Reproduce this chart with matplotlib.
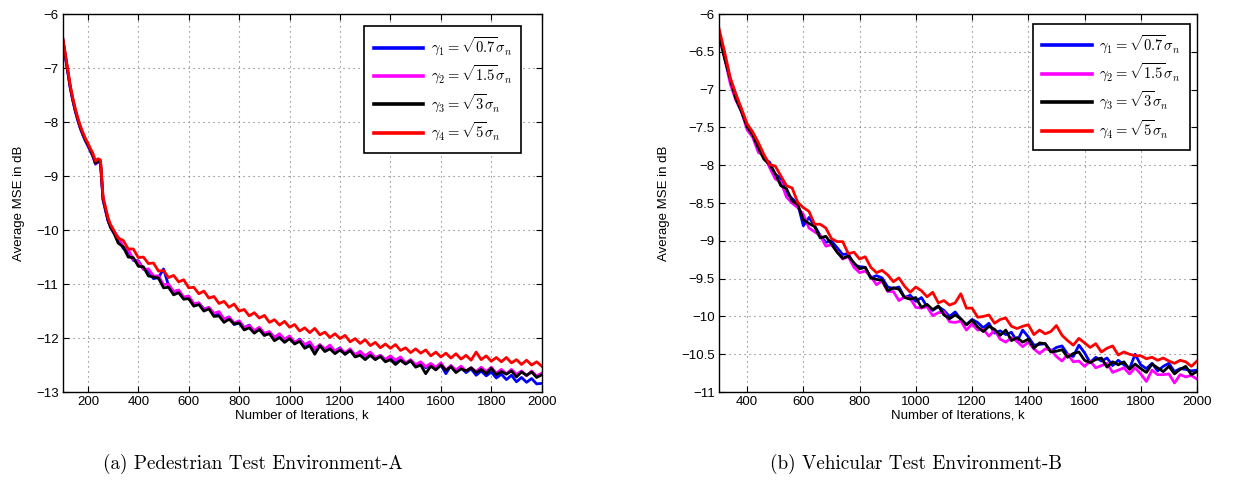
import numpy as np
import matplotlib
matplotlib.use("Agg")
import matplotlib.pyplot as plt
from matplotlib.ticker import FixedLocator, FuncFormatter

plt.rcParams['font.family'] = ['Liberation Sans', 'DejaVu Sans']
plt.rcParams['mathtext.fontset'] = 'cm'

# ---- (a) pedestrian environment: iterations 100..290 step 10, then 300..2000 step 20
iter_a = np.concatenate([np.arange(100, 300, 10), np.arange(300, 2001, 20)])

mse_a_g1 = [-6.47, -6.78, -7.07, -7.37, -7.60, -7.80, -7.97, -8.12, -8.24, -8.35,
            -8.44, -8.54, -8.64, -8.78, -8.74, -8.76, -9.44, -9.64, -9.83, -9.95,
            -10.04, -10.14, -10.34, -10.40, -10.56, -10.57, -10.72, -10.75, -10.90, -10.88,
            -10.72, -11.03, -11.14, -11.12, -11.27, -11.27, -11.39, -11.35, -11.46, -11.44,
            -11.58, -11.55, -11.65, -11.61, -11.75, -11.72, -11.81, -11.76, -11.87, -11.84,
            -11.95, -11.89, -11.99, -11.93, -12.06, -12.01, -12.09, -12.02, -12.13, -12.10,
            -12.21, -12.13, -12.23, -12.18, -12.24, -12.18, -12.30, -12.23, -12.32, -12.25,
            -12.34, -12.31, -12.39, -12.32, -12.40, -12.34, -12.44, -12.40, -12.48, -12.42,
            -12.51, -12.46, -12.55, -12.49, -12.58, -12.50, -12.66, -12.51, -12.61, -12.55,
            -12.64, -12.57, -12.69, -12.61, -12.70, -12.63, -12.74, -12.67, -12.77, -12.69,
            -12.81, -12.73, -12.82, -12.75, -12.85, -12.84]

mse_a_g2 = [-6.46, -6.76, -7.06, -7.36, -7.59, -7.79, -7.96, -8.11, -8.23, -8.34,
            -8.43, -8.53, -8.63, -8.77, -8.73, -8.75, -9.43, -9.63, -9.82, -9.94,
            -10.02, -10.13, -10.31, -10.36, -10.55, -10.58, -10.73, -10.72, -10.85, -10.85,
            -11.01, -11.00, -11.14, -11.11, -11.24, -11.22, -11.36, -11.35, -11.47, -11.43,
            -11.54, -11.51, -11.65, -11.61, -11.72, -11.68, -11.80, -11.77, -11.86, -11.80,
            -11.91, -11.88, -11.99, -11.92, -12.02, -11.96, -12.08, -12.03, -12.12, -12.07,
            -12.20, -12.12, -12.20, -12.13, -12.24, -12.19, -12.27, -12.20, -12.31, -12.25,
            -12.33, -12.26, -12.36, -12.32, -12.40, -12.33, -12.41, -12.35, -12.46, -12.40,
            -12.49, -12.44, -12.53, -12.47, -12.54, -12.46, -12.59, -12.51, -12.59, -12.52,
            -12.61, -12.55, -12.62, -12.54, -12.62, -12.54, -12.65, -12.58, -12.66, -12.58,
            -12.67, -12.61, -12.70, -12.61, -12.70, -12.65]

mse_a_g3 = [-6.45, -6.75, -7.05, -7.35, -7.58, -7.78, -7.95, -8.10, -8.22, -8.33,
            -8.42, -8.52, -8.62, -8.76, -8.72, -8.74, -9.42, -9.62, -9.82, -9.95,
            -10.02, -10.24, -10.31, -10.50, -10.51, -10.67, -10.68, -10.85, -10.87, -10.89,
            -11.07, -11.06, -11.20, -11.16, -11.28, -11.27, -11.41, -11.38, -11.50, -11.46,
            -11.60, -11.59, -11.71, -11.65, -11.74, -11.72, -11.85, -11.81, -11.91, -11.84,
            -11.95, -11.92, -12.05, -11.99, -12.08, -12.01, -12.11, -12.06, -12.19, -12.14,
            -12.30, -12.14, -12.25, -12.20, -12.29, -12.22, -12.30, -12.23, -12.35, -12.32,
            -12.40, -12.32, -12.40, -12.34, -12.44, -12.40, -12.49, -12.41, -12.48, -12.42,
            -12.54, -12.50, -12.66, -12.52, -12.59, -12.50, -12.60, -12.53, -12.64, -12.57,
            -12.61, -12.55, -12.64, -12.58, -12.66, -12.56, -12.68, -12.62, -12.67, -12.61,
            -12.72, -12.63, -12.69, -12.63, -12.73, -12.68]

mse_a_g4 = [-6.43, -6.72, -7.02, -7.32, -7.55, -7.75, -7.92, -8.07, -8.19, -8.30,
            -8.39, -8.49, -8.58, -8.72, -8.68, -8.70, -9.38, -9.58, -9.77, -9.90,
            -9.98, -10.15, -10.19, -10.35, -10.35, -10.51, -10.50, -10.62, -10.61, -10.76,
            -10.75, -10.88, -10.84, -10.96, -10.92, -11.07, -11.06, -11.18, -11.13, -11.26,
            -11.23, -11.36, -11.32, -11.43, -11.37, -11.50, -11.47, -11.59, -11.53, -11.63,
            -11.58, -11.71, -11.66, -11.76, -11.69, -11.80, -11.75, -11.87, -11.81, -11.90,
            -11.82, -11.94, -11.89, -11.99, -11.92, -12.01, -11.95, -12.07, -12.01, -12.10,
            -12.03, -12.14, -12.08, -12.18, -12.11, -12.19, -12.12, -12.23, -12.18, -12.27,
            -12.20, -12.28, -12.22, -12.33, -12.26, -12.35, -12.28, -12.37, -12.29, -12.39,
            -12.32, -12.41, -12.26, -12.40, -12.33, -12.43, -12.36, -12.44, -12.36, -12.46,
            -12.40, -12.49, -12.41, -12.50, -12.44, -12.52]

# ---- (b) vehicular environment: iterations 300..2000 step 20
iter_b = np.arange(300, 2001, 20)

mse_b_g1 = [-6.26, -6.55, -6.87, -7.06, -7.29, -7.48, -7.58, -7.73, -7.91, -7.96,
            -8.12, -8.17, -8.37, -8.44, -8.51, -8.80, -8.69, -8.80, -8.93, -9.02,
            -9.00, -9.09, -9.18, -9.17, -9.32, -9.34, -9.35, -9.49, -9.46, -9.49,
            -9.61, -9.63, -9.61, -9.75, -9.72, -9.80, -9.75, -9.87, -9.92, -9.87,
            -9.92, -10.00, -9.94, -10.04, -10.11, -10.04, -10.08, -10.15, -10.09, -10.22,
            -10.19, -10.24, -10.21, -10.33, -10.18, -10.27, -10.38, -10.37, -10.36, -10.46,
            -10.41, -10.39, -10.50, -10.53, -10.38, -10.48, -10.61, -10.54, -10.59, -10.55,
            -10.65, -10.58, -10.64, -10.69, -10.50, -10.64, -10.69, -10.62, -10.72, -10.66,
            -10.62, -10.73, -10.69, -10.70, -10.72, -10.71]

mse_b_g2 = [-6.28, -6.58, -6.92, -7.14, -7.29, -7.53, -7.63, -7.83, -7.87, -8.03,
            -8.18, -8.22, -8.42, -8.50, -8.56, -8.65, -8.83, -8.88, -8.93, -9.07,
            -9.05, -9.14, -9.24, -9.21, -9.35, -9.42, -9.40, -9.47, -9.58, -9.53,
            -9.67, -9.67, -9.79, -9.74, -9.76, -9.88, -9.89, -9.87, -9.99, -9.95,
            -9.94, -10.07, -10.08, -10.06, -10.18, -10.10, -10.18, -10.17, -10.26, -10.18,
            -10.30, -10.34, -10.28, -10.33, -10.40, -10.34, -10.43, -10.49, -10.43, -10.44,
            -10.53, -10.59, -10.50, -10.60, -10.59, -10.66, -10.59, -10.68, -10.65, -10.62,
            -10.74, -10.71, -10.68, -10.76, -10.68, -10.76, -10.86, -10.71, -10.77, -10.77,
            -10.76, -10.88, -10.77, -10.80, -10.78, -10.83]

mse_b_g3 = [-6.26, -6.59, -6.86, -7.12, -7.29, -7.49, -7.60, -7.77, -7.92, -7.99,
            -8.11, -8.27, -8.31, -8.47, -8.52, -8.72, -8.77, -8.81, -8.96, -8.94,
            -9.04, -9.15, -9.23, -9.20, -9.29, -9.37, -9.35, -9.49, -9.51, -9.52,
            -9.66, -9.62, -9.64, -9.75, -9.77, -9.75, -9.88, -9.84, -9.91, -9.86,
            -9.98, -10.03, -9.98, -10.03, -10.11, -10.05, -10.14, -10.20, -10.13, -10.17,
            -10.25, -10.18, -10.32, -10.28, -10.34, -10.30, -10.42, -10.35, -10.36, -10.47,
            -10.46, -10.44, -10.54, -10.49, -10.47, -10.58, -10.61, -10.57, -10.55, -10.67,
            -10.60, -10.64, -10.60, -10.70, -10.63, -10.69, -10.74, -10.63, -10.68, -10.73,
            -10.66, -10.76, -10.70, -10.66, -10.77, -10.73]

mse_b_g4 = [-6.19, -6.50, -6.84, -7.06, -7.25, -7.45, -7.56, -7.70, -7.86, -7.99,
            -8.01, -8.14, -8.27, -8.30, -8.49, -8.56, -8.61, -8.78, -8.78, -8.83,
            -8.97, -9.01, -9.01, -9.17, -9.15, -9.24, -9.21, -9.35, -9.42, -9.39,
            -9.45, -9.54, -9.49, -9.60, -9.68, -9.61, -9.66, -9.74, -9.68, -9.82,
            -9.79, -9.85, -9.82, -9.70, -9.89, -9.89, -10.01, -10.00, -9.98, -10.09,
            -10.04, -10.02, -10.13, -10.16, -10.13, -10.11, -10.24, -10.18, -10.23, -10.20,
            -10.12, -10.25, -10.32, -10.38, -10.29, -10.35, -10.41, -10.36, -10.47, -10.42,
            -10.39, -10.51, -10.47, -10.50, -10.52, -10.52, -10.56, -10.54, -10.58, -10.55,
            -10.59, -10.62, -10.58, -10.60, -10.66, -10.59]

labels = [r'$\gamma_1 = \sqrt{0.7}\sigma_n$',
          r'$\gamma_2 = \sqrt{1.5}\sigma_n$',
          r'$\gamma_3 = \sqrt{3}\sigma_n$',
          r'$\gamma_4 = \sqrt{5}\sigma_n$']
colors = ['#0000ff', '#ff00ff', '#000000', '#ff0000']

xticks_a = [200, 400, 600, 800, 1000, 1200, 1400, 1600, 1800, 2000]
yticks_a = [-13, -12, -11, -10, -9, -8, -7, -6]
xticks_b = [400, 600, 800, 1000, 1200, 1400, 1600, 1800, 2000]
yticks_b = [-11, -10.5, -10, -9.5, -9, -8.5, -8, -7.5, -7, -6.5, -6]


def fmt(v, pos):
    return ('%g' % v).replace('-', '\u2212')


def style_axes(ax, xlim, ylim, xt, yt):
    ax.set_xlim(*xlim)
    ax.set_ylim(*ylim)
    ax.xaxis.set_major_locator(FixedLocator(xt))
    ax.yaxis.set_major_locator(FixedLocator(yt))
    ax.xaxis.set_major_formatter(FuncFormatter(fmt))
    ax.yaxis.set_major_formatter(FuncFormatter(fmt))
    ax.tick_params(direction='in', top=True, right=True, length=4, width=0.8,
                   labelsize=9.5, pad=3)
    ax.grid(True, color='0.45', linestyle=(0, (1, 3.5)), linewidth=0.8)
    for s in ax.spines.values():
        s.set_linewidth(1.0)
    ax.set_xlabel('Number of Iterations, k', fontsize=9.5, labelpad=1)
    ax.set_ylabel('Average MSE in dB', fontsize=9.5, labelpad=8)


fig = plt.figure(figsize=(12.39, 4.87), dpi=100)
ax1 = fig.add_axes([0.0506, 0.195, 0.3866, 0.776])
ax2 = fig.add_axes([0.5803, 0.195, 0.3858, 0.776])

for ys, c, lab in zip([mse_a_g1, mse_a_g2, mse_a_g3, mse_a_g4], colors, labels):
    ax1.plot(iter_a, ys, color=c, linewidth=2.0, label=lab)
for ys, c, lab in zip([mse_b_g1, mse_b_g2, mse_b_g3, mse_b_g4], colors, labels):
    ax2.plot(iter_b, ys, color=c, linewidth=2.0, label=lab)

style_axes(ax1, (100, 2000), (-13, -6), xticks_a, yticks_a)
style_axes(ax2, (300, 2000), (-11, -6), xticks_b, yticks_b)

for ax, anchor in [(ax1, (0.957, 0.968)), (ax2, (0.985, 0.974))]:
    leg = ax.legend(loc='upper right', bbox_to_anchor=anchor, borderaxespad=0,
                    fontsize=10.5, handlelength=3.4, handletextpad=0.5,
                    labelspacing=0.42, borderpad=0.65, fancybox=False,
                    framealpha=1, edgecolor='black')
    leg.get_frame().set_linewidth(1.2)
    for h in leg.get_lines():
        h.set_linewidth(2.6)

fig.text(0.204, 0.047, '(a) Pedestrian Test Environment-A', family='cmr10',
         fontsize=13.8, ha='center', va='center')
fig.text(0.739, 0.047, '(b) Vehicular Test Environment-B', family='cmr10',
         fontsize=13.8, ha='center', va='center')

fig.savefig('out.png', dpi=100)
